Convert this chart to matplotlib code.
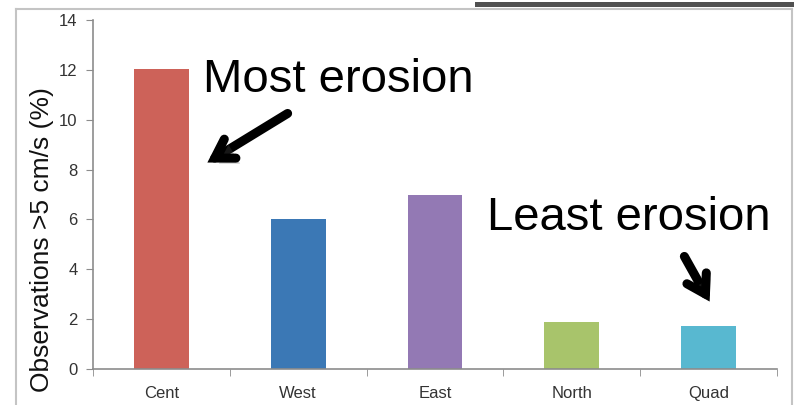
import matplotlib.pyplot as plt
import matplotlib.patheffects as pe
from matplotlib.patches import Rectangle
from matplotlib.lines import Line2D

# data
sites = ['Cent', 'West', 'East', 'North', 'Quad']
obs_pct = [12.05, 6.0, 7.0, 1.88, 1.72]
bar_colors = ['#CD6259', '#3B78B5', '#9379B4', '#A8C46B', '#58B8D0']
yticks = [0, 2, 4, 6, 8, 10, 12, 14]

plt.rcParams['font.family'] = ['Liberation Sans', 'DejaVu Sans']

fig = plt.figure(figsize=(7.94, 4.05), dpi=100)
ax = fig.add_axes([93/794, 1 - 369/405, (777 - 93)/794, (369 - 20)/405])

x = list(range(len(sites)))
ax.bar(x, obs_pct, width=0.4, color=bar_colors, zorder=2)

ax.set_xlim(-0.5, len(sites) - 0.5)
ax.set_ylim(0, 14)
ax.set_yticks(yticks)
ax.set_xticks(x)
ax.set_xticklabels(sites)
ax.set_xticks([i - 0.5 for i in range(len(sites) + 1)], minor=True)

grey = '#8C8C8C'
for s in ['top', 'right']:
    ax.spines[s].set_visible(False)
for s in ['left', 'bottom']:
    ax.spines[s].set_color(grey)
    ax.spines[s].set_linewidth(1.2)
ax.tick_params(axis='y', length=5, color=grey, labelsize=12, labelcolor='#333333', pad=6)
ax.tick_params(axis='x', which='major', length=0, labelsize=12, labelcolor='#333333', pad=12)
ax.tick_params(axis='x', which='minor', length=5, color=grey)
ax.set_ylabel('Observations >5 cm/s (%)', fontsize=19, color='#111111')
ax.yaxis.set_label_coords(-0.057, 0.372)

# annotations with shadowed arrows
fig.text(203/794, 1 - 92/405, 'Most erosion', fontsize=34, color='black', va='baseline')
fig.text(487/794, 1 - 230/405, 'Least erosion', fontsize=34, color='black', va='baseline')

arrow_kw = dict(arrowstyle='->,head_length=1.3,head_width=0.8', lw=6.5, color='black',
                capstyle='round', joinstyle='miter')
a1 = ax.annotate('', xy=(205/794, 1 - 164/405), xytext=(290/794, 1 - 112/405),
                 xycoords='figure fraction', textcoords='figure fraction',
                 arrowprops=arrow_kw)
a1.arrow_patch.set_path_effects([pe.SimplePatchShadow(offset=(3, -4), alpha=0.3), pe.Normal()])
a2 = ax.annotate('', xy=(711/794, 1 - 304/405), xytext=(683/794, 1 - 254/405),
                 xycoords='figure fraction', textcoords='figure fraction',
                 arrowprops=arrow_kw)
a2.arrow_patch.set_path_effects([pe.SimplePatchShadow(offset=(3, -4), alpha=0.3), pe.Normal()])

# screenshot frame around the chart
fig.add_artist(Line2D([16/794, 16/794], [0, 1 - 9/405], color='#C4C4C4', lw=1.5))
fig.add_artist(Line2D([16/794, 792/794], [1 - 9/405, 1 - 9/405], color='#C4C4C4', lw=1.5))
fig.add_artist(Line2D([792/794, 792/794], [0, 1 - 9/405], color='#C4C4C4', lw=1.5))
fig.add_artist(Rectangle((475/794, 1 - 7/405), (794 - 475)/794, 5/405,
                         transform=fig.transFigure, color='#505050', lw=0))

fig.savefig('out.png', dpi=100)
